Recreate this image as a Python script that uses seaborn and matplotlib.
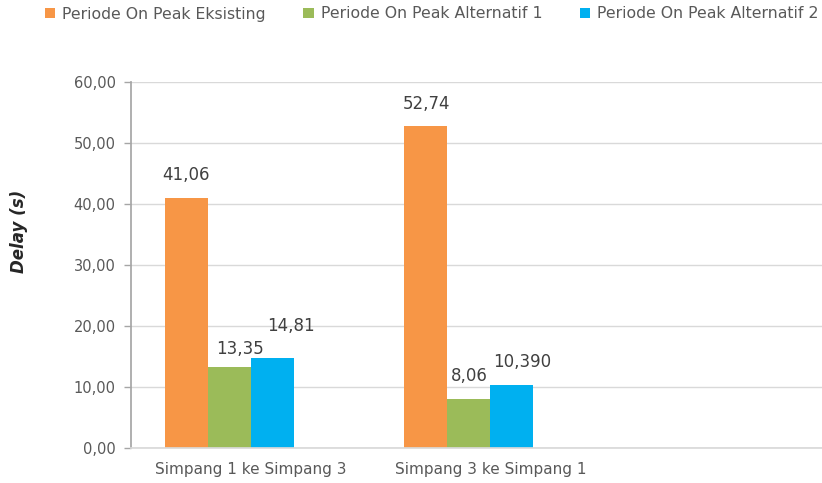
import matplotlib
matplotlib.use("Agg")
import matplotlib.pyplot as plt
from matplotlib.patches import Patch
import seaborn as sns
import pandas as pd

# Data
routes = ["Simpang 1 ke Simpang 3", "Simpang 3 ke Simpang 1"]
periods = ["Periode On Peak Eksisting",
           "Periode On Peak Alternatif 1",
           "Periode On Peak Alternatif 2"]
eksisting = [41.06, 52.74]
alternatif_1 = [13.35, 8.06]
alternatif_2 = [14.81, 10.39]
value_labels = [["41,06", "52,74"], ["13,35", "8,06"], ["14,81", "10,390"]]
y_ticks = [0, 10, 20, 30, 40, 50, 60]

# Style
colors = ["#F79646", "#9BBB59", "#00B0F0"]
label_offsets = [[(0, 23), (1, 22)], [(11, 18), (1, 23)], [(19, 32), (10, 23)]]
TICK_GREY = "#595959"

df = pd.DataFrame({
    "route": routes * len(periods),
    "period": [p for p in periods for _ in routes],
    "delay": eksisting + alternatif_1 + alternatif_2,
})

sns.set_theme(style="white")
plt.rcParams["font.family"] = ["DejaVu Sans"]

fig = plt.figure(figsize=(8.22, 4.83), dpi=100)
ax = fig.add_axes([131 / 822, 35 / 483, 718.5 / 822, 366 / 483])

# an empty fourth series slot and an empty third category keep the bar spacing
hue_order = periods + ["-"]
order = routes + [" "]
palette = dict(zip(hue_order, colors + ["#FFFFFF"]))
sns.barplot(data=df, x="route", y="delay", hue="period", order=order,
            hue_order=hue_order, palette=palette, width=0.72, saturation=1,
            errorbar=None, legend=False, linewidth=0, ax=ax)

# value labels above each bar
for i, period in enumerate(periods):
    bars = ax.containers[i]
    for j, bar in enumerate(bars):
        cx = bar.get_x() + bar.get_width() / 2
        ax.annotate(value_labels[i][j], xy=(cx, bar.get_height()),
                    xytext=label_offsets[i][j], textcoords="offset pixels",
                    ha="center", va="center", fontsize=12, color="#404040")

ax.set_ylim(0, 60)
ax.set_xlim(-0.5, 2.5)
ax.set_yticks(y_ticks)
ax.set_yticklabels([f"{v:.2f}".replace(".", ",") for v in y_ticks])
ax.yaxis.grid(True, color="#D9D9D9", linewidth=1)
ax.set_axisbelow(True)

for side in ("top", "right"):
    ax.spines[side].set_visible(False)
ax.spines["left"].set_color("#A6A6A6")
ax.spines["bottom"].set_color("#D9D9D9")

ax.tick_params(axis="y", length=5, width=1, color="#A6A6A6",
               labelcolor=TICK_GREY, labelsize=10.5, pad=6, left=True)
ax.tick_params(axis="x", length=0, labelcolor=TICK_GREY, labelsize=11, pad=10)

ax.set_xlabel("")
ax.set_ylabel("Delay (s)", fontweight="bold", fontstyle="italic",
              fontsize=12, color="#262626")
ax.yaxis.set_label_coords((28 - 131) / 718.5, (448 - 231) / 366)

handles = [Patch(facecolor=c, edgecolor="none", label=p)
           for c, p in zip(colors, periods)]
fig.legend(handles=handles, loc="center left",
           bbox_to_anchor=(45 / 822, 1 - 14 / 483), ncol=3, frameon=False,
           handlelength=0.65, handleheight=0.65, handletextpad=0.45,
           columnspacing=2.4, borderpad=0, borderaxespad=0,
           fontsize=11.3, labelcolor=TICK_GREY)

fig.savefig("out.png", dpi=100, facecolor="white")
